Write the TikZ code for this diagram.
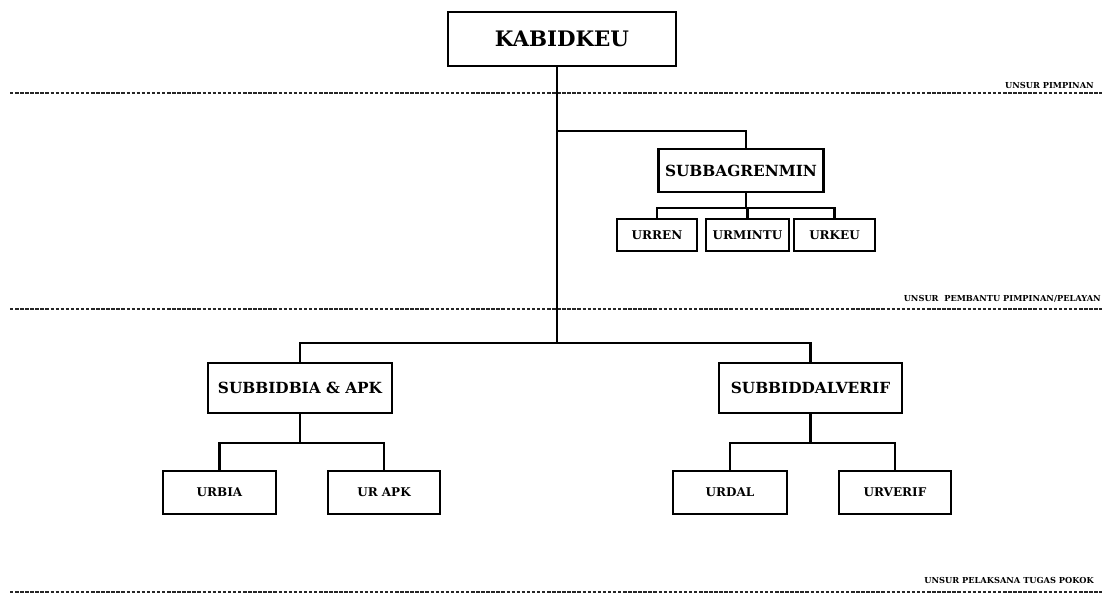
\documentclass[tikz,border=0pt]{standalone}
\usepackage{fontspec}
\setmainfont{DejaVu Serif}
\begin{document}
\begin{tikzpicture}[x=0.75pt,y=-0.75pt,
  box/.style={draw=black,line width=2.2pt,fill=white,inner sep=0pt,font=\bfseries},
  topbox/.style={box,minimum width=171pt,minimum height=40.5pt,font=\bfseries\fontsize{16}{18}\selectfont},
  midbox/.style={box,minimum height=37.5pt,font=\bfseries\fontsize{11.5}{13}\selectfont},
  leafbox/.style={box,minimum height=24pt,font=\bfseries\fontsize{9}{11}\selectfont},
  lowbox/.style={box,minimum height=32.25pt,font=\bfseries\fontsize{9}{11}\selectfont},
  conn/.style={draw=black,line width=2pt},
  dashline/.style={draw=black!85,line width=1.2pt,dash pattern=on 2.6pt off 1.2pt},
  zone/.style={font=\bfseries\fontsize{6.2}{7}\selectfont,anchor=east,inner sep=0pt}
]
\useasboundingbox (0,0) rectangle (1108,595);

% zone lines
\coordinate (d1a) at (10,93);  \coordinate (d1b) at (1102,93);
\coordinate (d2a) at (10,309); \coordinate (d2b) at (1102,309);
\coordinate (d3a) at (10,592); \coordinate (d3b) at (1102,592);
\draw[dashline] (d1a) -- (d1b);
\draw[dashline] (d2a) -- (d2b);
\draw[dashline] (d3a) -- (d3b);
\node[zone] (z1) at (1094,85) {UNSUR PIMPINAN};
\node[zone] (z2) at (1101,299) {UNSUR\ \ PEMBANTU PIMPINAN/PELAYAN};
\node[zone] (z3) at (1094,580) {UNSUR PELAKSANA TUGAS POKOK};

% junctions
\coordinate (j1) at (557,131);
\coordinate (j2) at (557,343);
\coordinate (b1) at (746,208);
\coordinate (b2) at (300,443);
\coordinate (b3) at (810.5,443);

% nodes
\node[topbox] (kab) at (562,39) {KABIDKEU};
\node[midbox,minimum width=123.75pt,minimum height=32.25pt] (ren) at (741,170.5) {SUBBAGRENMIN};
\node[leafbox,minimum width=60pt] (urren) at (657,235) {URREN};
\node[leafbox,minimum width=62.25pt] (urmintu) at (747.5,235) {URMINTU};
\node[leafbox,minimum width=60.75pt] (urkeu) at (834.5,235) {URKEU};
\node[midbox,minimum width=138pt] (bia) at (300,388) {SUBBIDBIA \& APK};
\node[midbox,minimum width=137.25pt] (dal) at (810.5,388) {SUBBIDDALVERIF};
\node[lowbox,minimum width=84.75pt] (urbia) at (219.5,492.5) {URBIA};
\node[lowbox,minimum width=84pt] (urapk) at (384,492.5) {UR APK};
\node[lowbox,minimum width=85.5pt] (urdal) at (730,492.5) {URDAL};
\node[lowbox,minimum width=84pt] (urverif) at (895,492.5) {URVERIF};

% connectors
\draw[conn] (kab.south -| j2) -- (j2);
\draw[conn] (j1) -| (ren.north -| b1);
\draw[conn] (ren.south -| b1) -- (b1);
\draw[conn] (urren.north) |- (b1) -| (urkeu.north);
\draw[conn] (urmintu.north) -- (urmintu.north |- b1);
\draw[conn] (bia.north) |- (j2) -| (dal.north);
\draw[conn] (bia.south) -- (b2);
\draw[conn] (urbia.north) |- (b2) -| (urapk.north);
\draw[conn] (dal.south) -- (b3);
\draw[conn] (urdal.north) |- (b3) -| (urverif.north);
\end{tikzpicture}
\end{document}
